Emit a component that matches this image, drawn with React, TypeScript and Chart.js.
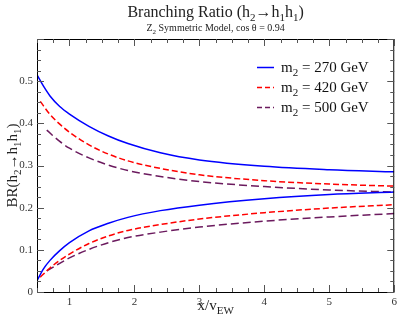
import React, { useEffect, useRef } from 'react';
import { Chart, registerables } from 'chart.js';
Chart.register(...registerables);

// x positions (x / v_EW)
const blueX = [0.5, 0.6, 0.7, 0.85, 1.0, 1.3, 1.6, 1.9, 2.4, 3, 4, 5, 6];
const blueUpper = [0.515, 0.488, 0.465, 0.44, 0.422, 0.393, 0.37, 0.352, 0.33, 0.313, 0.298, 0.29, 0.285];
const blueLower = [0.027, 0.055, 0.075, 0.098, 0.117, 0.145, 0.163, 0.177, 0.193, 0.206, 0.221, 0.231, 0.237];

const redX = [0.55, 0.7, 0.85, 1.0, 1.3, 1.6, 1.9, 2.4, 3, 4, 5, 6];
const redUpper = [0.452, 0.421, 0.398, 0.379, 0.349, 0.327, 0.311, 0.293, 0.278, 0.264, 0.256, 0.251];
const redLower = [0.035, 0.057, 0.075, 0.09, 0.115, 0.133, 0.146, 0.16, 0.173, 0.188, 0.199, 0.207];

const purpleX = [0.65, 0.85, 1.0, 1.3, 1.6, 1.9, 2.4, 3, 4, 5, 6];
const purpleUpper = [0.384, 0.357, 0.341, 0.318, 0.301, 0.288, 0.274, 0.262, 0.25, 0.242, 0.237];
const purpleLower = [0.05, 0.068, 0.081, 0.101, 0.117, 0.129, 0.142, 0.154, 0.168, 0.178, 0.186];

const legendMasses = ['270', '420', '500'];
const seriesColors = ['#0000ff', '#ff0000', '#6b1a5e'];
const seriesDash: number[][] = [[], [6, 3], [8, 4]];

const X_MIN = 0.5;
const X_MAX = 6;
const Y_MIN = 0;
const Y_MAX = 0.6;

const FONT = '"Liberation Serif", "Times New Roman", serif';

type Seg = { t: string; sub?: boolean };

function segFont(size: number, sub?: boolean) {
  return `${sub ? Math.round(size * 0.7) : size}px ${FONT}`;
}
function richWidth(ctx: CanvasRenderingContext2D, segs: Seg[], size: number) {
  let w = 0;
  for (const s of segs) {
    ctx.font = segFont(size, s.sub);
    w += ctx.measureText(s.t).width;
  }
  return w;
}
function drawRich(
  ctx: CanvasRenderingContext2D,
  segs: Seg[],
  x: number,
  y: number,
  size: number,
  align: 'left' | 'center',
  color = '#000'
) {
  const w = richWidth(ctx, segs, size);
  let cx = align === 'center' ? x - w / 2 : x;
  ctx.fillStyle = color;
  ctx.textAlign = 'left';
  ctx.textBaseline = 'alphabetic';
  for (const s of segs) {
    ctx.font = segFont(size, s.sub);
    ctx.fillText(s.t, cx, s.sub ? y + size * 0.28 : y);
    cx += ctx.measureText(s.t).width;
  }
}

const pts = (xs: number[], ys: number[]) => xs.map((x, i) => ({ x, y: ys[i] }));

const decorPlugin = {
  id: 'decor',
  afterDraw(chart: any) {
    const ctx: CanvasRenderingContext2D = chart.ctx;
    const { left, right, top, bottom } = chart.chartArea;
    const xs = chart.scales.x;
    const ys = chart.scales.y;
    ctx.save();
    // frame
    ctx.strokeStyle = '#000';
    ctx.lineWidth = 1;
    ctx.strokeRect(left + 0.5, top + 0.5, right - left - 1, bottom - top);
    // inward ticks
    ctx.strokeStyle = '#555';
    ctx.beginPath();
    for (const t of xs.ticks) {
      const v = t.value;
      const px = Math.round(xs.getPixelForValue(v)) + 0.5;
      const major = Math.abs(v - Math.round(v)) < 1e-6;
      const len = major ? 7 : 4;
      ctx.moveTo(px, bottom);
      ctx.lineTo(px, bottom - len);
      ctx.moveTo(px, top);
      ctx.lineTo(px, top + len);
    }
    for (const t of ys.ticks) {
      const v = t.value;
      const py = Math.round(ys.getPixelForValue(v)) + 0.5;
      const major = Math.abs(v * 10 - Math.round(v * 10)) < 1e-6;
      const len = major ? 7 : 4;
      ctx.moveTo(left, py);
      ctx.lineTo(left + len, py);
      ctx.moveTo(right, py);
      ctx.lineTo(right - len, py);
    }
    ctx.stroke();

    // titles
    const cxMid = (left + right) / 2;
    drawRich(
      ctx,
      [{ t: 'Branching Ratio (h' }, { t: '2', sub: true }, { t: '\u2192h' }, { t: '1', sub: true }, { t: 'h' }, { t: '1', sub: true }, { t: ')' }],
      cxMid,
      17,
      16,
      'center',
      '#222'
    );
    drawRich(
      ctx,
      [{ t: 'Z' }, { t: '2', sub: true }, { t: ' Symmetric Model, cos \u03b8 = 0.94' }],
      cxMid,
      31,
      10,
      'center',
      '#222'
    );
    // x axis title
    drawRich(ctx, [{ t: 'x/v' }, { t: 'EW', sub: true }], cxMid, 310, 15, 'center', '#222');
    // y axis title
    ctx.save();
    ctx.translate(17, (top + bottom) / 2);
    ctx.rotate(-Math.PI / 2);
    drawRich(
      ctx,
      [{ t: 'BR(h' }, { t: '2', sub: true }, { t: '\u2192h' }, { t: '1', sub: true }, { t: 'h' }, { t: '1', sub: true }, { t: ')' }],
      0,
      0,
      15,
      'center',
      '#222'
    );
    ctx.restore();

    // legend
    legendMasses.forEach((m, i) => {
      const y = 72 + i * 20;
      ctx.strokeStyle = seriesColors[i];
      ctx.lineWidth = 1.5;
      ctx.setLineDash(seriesDash[i].length ? [5, 3] : []);
      ctx.beginPath();
      ctx.moveTo(257, y - 4.5);
      ctx.lineTo(274, y - 4.5);
      ctx.stroke();
      ctx.setLineDash([]);
      drawRich(ctx, [{ t: 'm' }, { t: '2', sub: true }, { t: ` = ${m} GeV` }], 281, y, 15, 'left', '#111');
    });
    ctx.restore();
  },
};

export default function App() {
  const ref = useRef<HTMLCanvasElement>(null);
  useEffect(() => {
    document.body.style.margin = '0';
    const canvas = ref.current!;
    const mk = (label: string, data: any[], i: number) => ({
      label,
      data,
      borderColor: seriesColors[i],
      backgroundColor: seriesColors[i],
      borderWidth: 1.5,
      borderDash: seriesDash[i],
      pointRadius: 0,
      fill: false,
      cubicInterpolationMode: 'monotone' as const,
    });
    const chart = new Chart(canvas, {
      type: 'line',
      data: {
        datasets: [
          mk('m2 = 270 GeV', pts(blueX, blueUpper), 0),
          mk('m2 = 270 GeV lower', pts(blueX, blueLower), 0),
          mk('m2 = 420 GeV', pts(redX, redUpper), 1),
          mk('m2 = 420 GeV lower', pts(redX, redLower), 1),
          mk('m2 = 500 GeV', pts(purpleX, purpleUpper), 2),
          mk('m2 = 500 GeV lower', pts(purpleX, purpleLower), 2),
        ],
      },
      options: {
        responsive: false,
        animation: false,
        layout: { padding: { top: 39, right: 3, left: 0, bottom: 0 } },
        plugins: { legend: { display: false }, tooltip: { enabled: false }, title: { display: false } },
        scales: {
          x: {
            type: 'linear',
            min: X_MIN,
            max: X_MAX,
            grid: { display: false, drawTicks: false },
            border: { display: false },
            ticks: {
              stepSize: 0.25,
              autoSkip: false,
              maxRotation: 0,
              padding: 4,
              color: '#333',
              font: { family: FONT, size: 11 },
              callback: (v: any) => {
                const n = Number(v);
                return Math.abs(n - Math.round(n)) < 1e-6 ? String(Math.round(n)) : '';
              },
            },
            afterFit: (s: any) => {
              s.height = 32;
            },
          },
          y: {
            type: 'linear',
            min: Y_MIN,
            max: Y_MAX,
            grid: { display: false, drawTicks: false },
            border: { display: false },
            ticks: {
              stepSize: 0.025,
              autoSkip: false,
              padding: 4,
              color: '#333',
              font: { family: FONT, size: 11 },
              callback: (v: any) => {
                const n = Number(v);
                const k = Math.round(n * 10);
                if (Math.abs(n * 10 - k) > 1e-6 || k >= 6) return '';
                return k === 0 ? '0' : (k / 10).toFixed(1);
              },
            },
            afterFit: (s: any) => {
              s.width = 37;
            },
          },
        },
      },
      plugins: [decorPlugin],
    });
    return () => chart.destroy();
  }, []);
  return <canvas ref={ref} width={401} height={324} style={{ display: 'block' }} />;
}
